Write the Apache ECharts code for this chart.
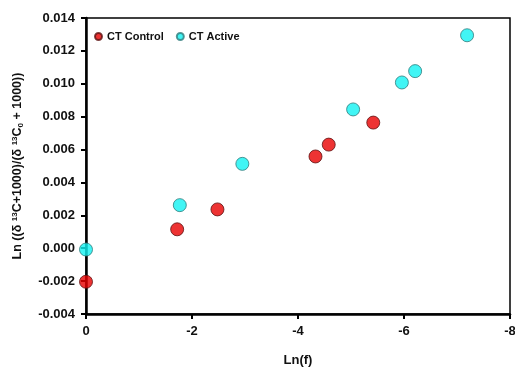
<!DOCTYPE html>
<html>
<head>
<meta charset="utf-8">
<script src="https://cdn.jsdelivr.net/npm/echarts@6/dist/echarts.min.js"></script>
<style>
    html, body { margin: 0; padding: 0; background: #fff; }
    #chart { width: 515px; height: 368px; }
</style>
</head>
<body>
<div id="chart"></div>
<script>
// values: [ln(f), ln ratio]
const controlX = [0, -1.72, -2.48, -4.33, -4.58, -5.42];
const controlY = [-0.00204, 0.00115, 0.00236, 0.00558, 0.0063, 0.00764];

const activeX = [0, -1.77, -2.95, -5.04, -5.96, -6.21, -7.19];
const activeY = [-0.00008, 0.00262, 0.00513, 0.00844, 0.01008, 0.01077, 0.01295];

const xTicks = [0, -2, -4, -6, -8];
const yTicks = [-0.004, -0.002, 0, 0.002, 0.004, 0.006, 0.008, 0.010, 0.012, 0.014];

const font = '"Liberation Sans", Arial, sans-serif';

function pairs(xs, ys) {
    return xs.map((x, i) => [x, ys[i]]);
}

const chart = echarts.init(document.getElementById('chart'));

chart.setOption({
    animation: false,
    backgroundColor: '#fff',
    textStyle: { fontFamily: font },
    grid: {
        left: 86, right: 5, top: 18, bottom: 54,
        outerBoundsMode: 'none',
        show: true,
        borderColor: '#000',
        borderWidth: 1.5
    },
    legend: {
        left: 89, top: 26,
        icon: 'circle',
        itemWidth: 7, itemHeight: 7,
        itemGap: 12,
        textStyle: { fontFamily: font, fontWeight: 'bold', fontSize: 11, color: '#111' },
        data: ['CT Control', 'CT Active']
    },
    xAxis: {
        type: 'value',
        min: xTicks[xTicks.length - 1],
        max: xTicks[0],
        interval: 2,
        inverse: true,
        name: 'Ln(f)',
        nameLocation: 'middle',
        nameGap: 40,
        nameTextStyle: { fontFamily: font, fontWeight: 'bold', fontSize: 13, color: '#111' },
        axisLine: { onZero: false, lineStyle: { color: '#000', width: 2.5 } },
        axisTick: { length: 5, lineStyle: { color: '#000', width: 2 } },
        axisLabel: { margin: 11, fontWeight: 'bold', fontSize: 13, color: '#111' },
        splitLine: { show: false }
    },
    yAxis: {
        type: 'value',
        min: yTicks[0],
        max: yTicks[yTicks.length - 1],
        interval: 0.002,
        name: 'Ln ((δ {sup|13}C+1000)/(δ {sup|13}C{sub|0} + 1000))',
        nameLocation: 'middle',
        nameRotate: 90,
        nameGap: 61,
        nameTextStyle: {
            fontFamily: font, fontWeight: 'bold', fontSize: 12.5, color: '#111',
            rich: {
                sup: { fontSize: 8, fontWeight: 'bold', verticalAlign: 'top', padding: [0, 0, 6, 0] },
                sub: { fontSize: 8, fontWeight: 'bold', verticalAlign: 'bottom', padding: [4, 0, 0, 0] }
            }
        },
        axisLine: { onZero: false, lineStyle: { color: '#000', width: 2.5 } },
        axisTick: { length: 5, lineStyle: { color: '#000', width: 2 } },
        axisLabel: {
            margin: 11, fontWeight: 'bold', fontSize: 13, color: '#111',
            formatter: v => v.toFixed(3)
        },
        splitLine: { show: false }
    },
    series: [
        {
            name: 'CT Control',
            type: 'scatter',
            symbolSize: 13,
            itemStyle: { color: '#e80000', borderColor: '#5e1212', borderWidth: 1 },
            data: pairs(controlX, controlY),
            z: 3
        },
        {
            name: 'CT Active',
            type: 'scatter',
            symbolSize: 13,
            itemStyle: { color: '#12f2f2', borderColor: '#2f7c7c', borderWidth: 1 },
            data: pairs(activeX, activeY),
            z: 4
        }
    ]
});
</script>
</body>
</html>
